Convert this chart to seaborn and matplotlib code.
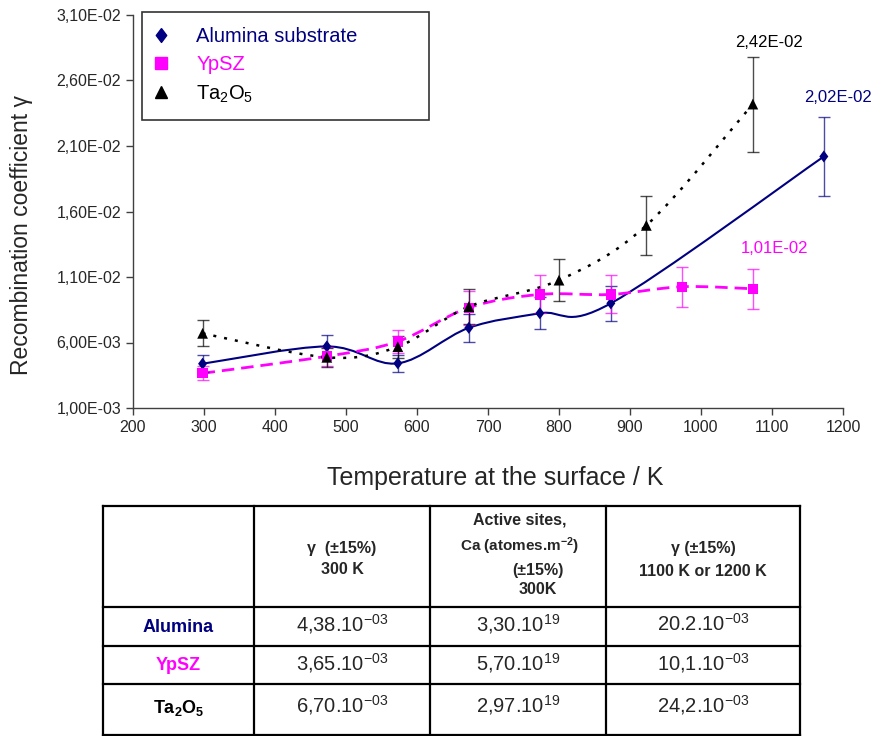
import numpy as np
import pandas as pd
import matplotlib
matplotlib.use("Agg")
import matplotlib.pyplot as plt
from matplotlib.path import Path
from matplotlib.patches import PathPatch
from matplotlib.ticker import FuncFormatter, MultipleLocator
import seaborn as sns

# ---------------- data ----------------
alumina_T = [298, 473, 573, 673, 773, 873, 1173]
alumina_g = [4.38e-3, 5.70e-3, 4.41e-3, 7.12e-3, 8.23e-3, 8.99e-3, 2.02e-2]
ypsz_T = [298, 473, 573, 673, 773, 873, 973, 1073]
ypsz_g = [3.65e-3, 4.95e-3, 6.08e-3, 8.66e-3, 9.67e-3, 9.67e-3, 1.026e-2, 1.01e-2]
ta_T = [298, 473, 573, 673, 800, 923, 1073]
ta_g = [6.70e-3, 4.87e-3, 5.68e-3, 8.74e-3, 1.076e-2, 1.494e-2, 2.42e-2]
rel_err = 0.15

series_names = ["Alumina substrate", "YpSZ", "Ta$_2$O$_5$"]
colors = ["#000080", "#FF00FF", "#000000"]
diamond = [(0, 1), (0.75, 0), (0, -1), (-0.75, 0), (0, 1)]
markers = [diamond, "s", "^"]
marker_sizes = [75, 55, 60]

table_rows = ["Alumina", "YpSZ", "Ta$_2$O$_5$"]
table_vals = [["4,38.10$^{-03}$", "3,30.10$^{19}$", "20.2.10$^{-03}$"],
              ["3,65.10$^{-03}$", "5,70.10$^{19}$", "10,1.10$^{-03}$"],
              ["6,70.10$^{-03}$", "2,97.10$^{19}$", "24,2.10$^{-03}$"]]

# ---------------- style ----------------
sns.set_style("ticks")
plt.rcParams['font.family'] = ['Liberation Sans', 'DejaVu Sans']
plt.rcParams['mathtext.fontset'] = 'custom'
plt.rcParams['mathtext.rm'] = 'Liberation Sans'
plt.rcParams['mathtext.it'] = 'Liberation Sans:italic'
plt.rcParams['mathtext.bf'] = 'Liberation Sans:bold'

W, H = 877, 736
fig = plt.figure(figsize=(W / 100, H / 100), dpi=100)
AX_L, AX_R, AX_T, AX_B = 133, 843, 15, 408
ax = fig.add_axes([AX_L / W, 1 - AX_B / H, (AX_R - AX_L) / W, (AX_B - AX_T) / H])

frames = []
for name, T, g in zip(series_names, [alumina_T, ypsz_T, ta_T], [alumina_g, ypsz_g, ta_g]):
    frames.append(pd.DataFrame({"T": T, "g": g, "series": name}))
df = pd.concat(frames, ignore_index=True)


def smooth_path(x, y):
    # Excel-like smoothed line: cubic Bezier segments (Catmull-Rom control points)
    pts = np.column_stack([x, y]).astype(float)
    n = len(pts)
    verts = [pts[0]]
    codes = [Path.MOVETO]
    for i in range(n - 1):
        p0 = pts[i - 1] if i > 0 else pts[i]
        p1 = pts[i]
        p2 = pts[i + 1]
        p3 = pts[i + 2] if i + 2 < n else pts[i + 1]
        c1 = p1 + (p2 - p0) / 6.0
        c2 = p2 - (p3 - p1) / 6.0
        verts += [c1, c2, p2]
        codes += [Path.CURVE4] * 3
    return Path(verts, codes)


line_styles = [dict(ls="-", lw=1.5), dict(ls=(0, (4.5, 2.5)), lw=2.0), dict(ls=(0, (1.2, 3.2)), lw=1.8)]
for name, col, st, m, s in zip(series_names, colors, line_styles, markers, marker_sizes):
    d = df[df.series == name]
    patch = PathPatch(smooth_path(d["T"].values, d["g"].values), facecolor="none",
                      edgecolor=col, linestyle=st["ls"], linewidth=st["lw"], zorder=2)
    ax.add_patch(patch)
    ax.errorbar(d["T"], d["g"], yerr=d["g"] * rel_err, fmt="none", ecolor=col,
                elinewidth=1.0, capsize=4, capthick=1.0, alpha=0.7, zorder=3)
    sns.scatterplot(data=d, x="T", y="g", color=col, marker=m, s=s,
                    edgecolor="none", ax=ax, zorder=4, legend=False)

# legend
handles = [plt.Line2D([], [], ls="none", marker=m, color=c, markersize=ms)
           for m, c, ms in zip(markers, colors, [10, 9, 9])]
x0 = (142 - AX_L) / (AX_R - AX_L)
w0 = (429 - 142) / (AX_R - AX_L)
y_top = 1 - (12 - AX_T) / (AX_B - AX_T)
leg = ax.legend(handles, series_names, loc="upper left",
                bbox_to_anchor=(x0, y_top - 0.5, w0, 0.5), mode="expand",
                frameon=True, fancybox=False, edgecolor="black", fontsize=14.5,
                handlelength=0.4, handletextpad=1.55, borderpad=0.75, labelspacing=0.45,
                borderaxespad=0.0)
leg.get_frame().set_linewidth(1.2)
for t, c in zip(leg.get_texts(), colors):
    t.set_color(c)

# data labels
ax.text(1096, 2.89e-2, "2,42E-02", color="black", fontsize=12, ha="center", va="center")
ax.text(1193, 2.47e-2, "2,02E-02", color="#000080", fontsize=12, ha="center", va="center", clip_on=False)
ax.text(1103, 1.32e-2, "1,01E-02", color="#FF00FF", fontsize=12, ha="center", va="center")

ax.set_xlim(200, 1200)
ax.set_ylim(1e-3, 3.1e-2)
ax.xaxis.set_major_locator(MultipleLocator(100))
ax.set_yticks(np.arange(1e-3, 3.11e-2, 5e-3))
ax.yaxis.set_major_formatter(FuncFormatter(lambda v, p: f"{v:.2E}".replace(".", ",")))
ax.tick_params(labelsize=11.5, length=5, width=1, color="#404040", direction="out")
sns.despine(ax=ax)
for s in ["left", "bottom"]:
    ax.spines[s].set_color("#404040")
    ax.spines[s].set_linewidth(1)
ax.set_xlabel("")
ax.set_ylabel("")
fig.text(22 / W, 1 - 235 / H, "Recombination coefficient γ", rotation=90, fontsize=16.5,
         ha="center", va="center")
fig.text(495 / W, 1 - 478 / H, "Temperature at the surface / K", fontsize=18,
         ha="center", va="center")

# ---------------- table ----------------
tax = fig.add_axes([0, 0, 1, 1])
tax.set_xlim(0, W)
tax.set_ylim(H, 0)
tax.axis("off")
xs = [103, 254, 430, 606, 800]
ys = [506, 607, 646, 684, 735]
for y in ys:
    tax.plot([xs[0], xs[-1]], [y, y], color="black", lw=1.6, solid_capstyle="projecting")
for x in xs:
    tax.plot([x, x], [ys[0], ys[-1]], color="black", lw=1.6, solid_capstyle="projecting")

hb = dict(fontsize=11.5, fontweight="bold", ha="center", va="center")
c1 = (xs[1] + xs[2]) / 2
c2 = (xs[2] + xs[3]) / 2
c3 = (xs[3] + xs[4]) / 2
tax.text(c1, 548, "γ  (±15%)", **hb)
tax.text(c1, 570, "300 K", **hb)
tax.text(c2 + 2, 520, "Active sites,", **hb)
tax.text(c2 + 2, 546, r"Ca (atomes.m$^{\mathbf{-2}}$)", fontsize=11, fontweight="bold",
         ha="center", va="center")
tax.text(c2 + 20, 571, "(±15%)", **hb)
tax.text(c2 + 20, 590, "300K", **hb)
tax.text(c3, 548, "γ (±15%)", **hb)
tax.text(c3, 572, "1100 K or 1200 K", **hb)

row_centers = [626, 665, 707]
row_colors = ["#000080", "#FF00FF", "black"]
for rc, lab, c, vals in zip(row_centers, table_rows, row_colors, table_vals):
    lab_txt = r"$\mathbf{Ta_2O_5}$" if "Ta" in lab else lab
    tax.text((xs[0] + xs[1]) / 2, rc + 1, lab_txt, fontsize=13, fontweight="bold", color=c,
             ha="center", va="center")
    for j, v in enumerate(vals):
        tax.text((xs[j + 1] + xs[j + 2]) / 2, rc - 2, v, fontsize=14.5, ha="center", va="center")

fig.savefig("out.png", dpi=100)
